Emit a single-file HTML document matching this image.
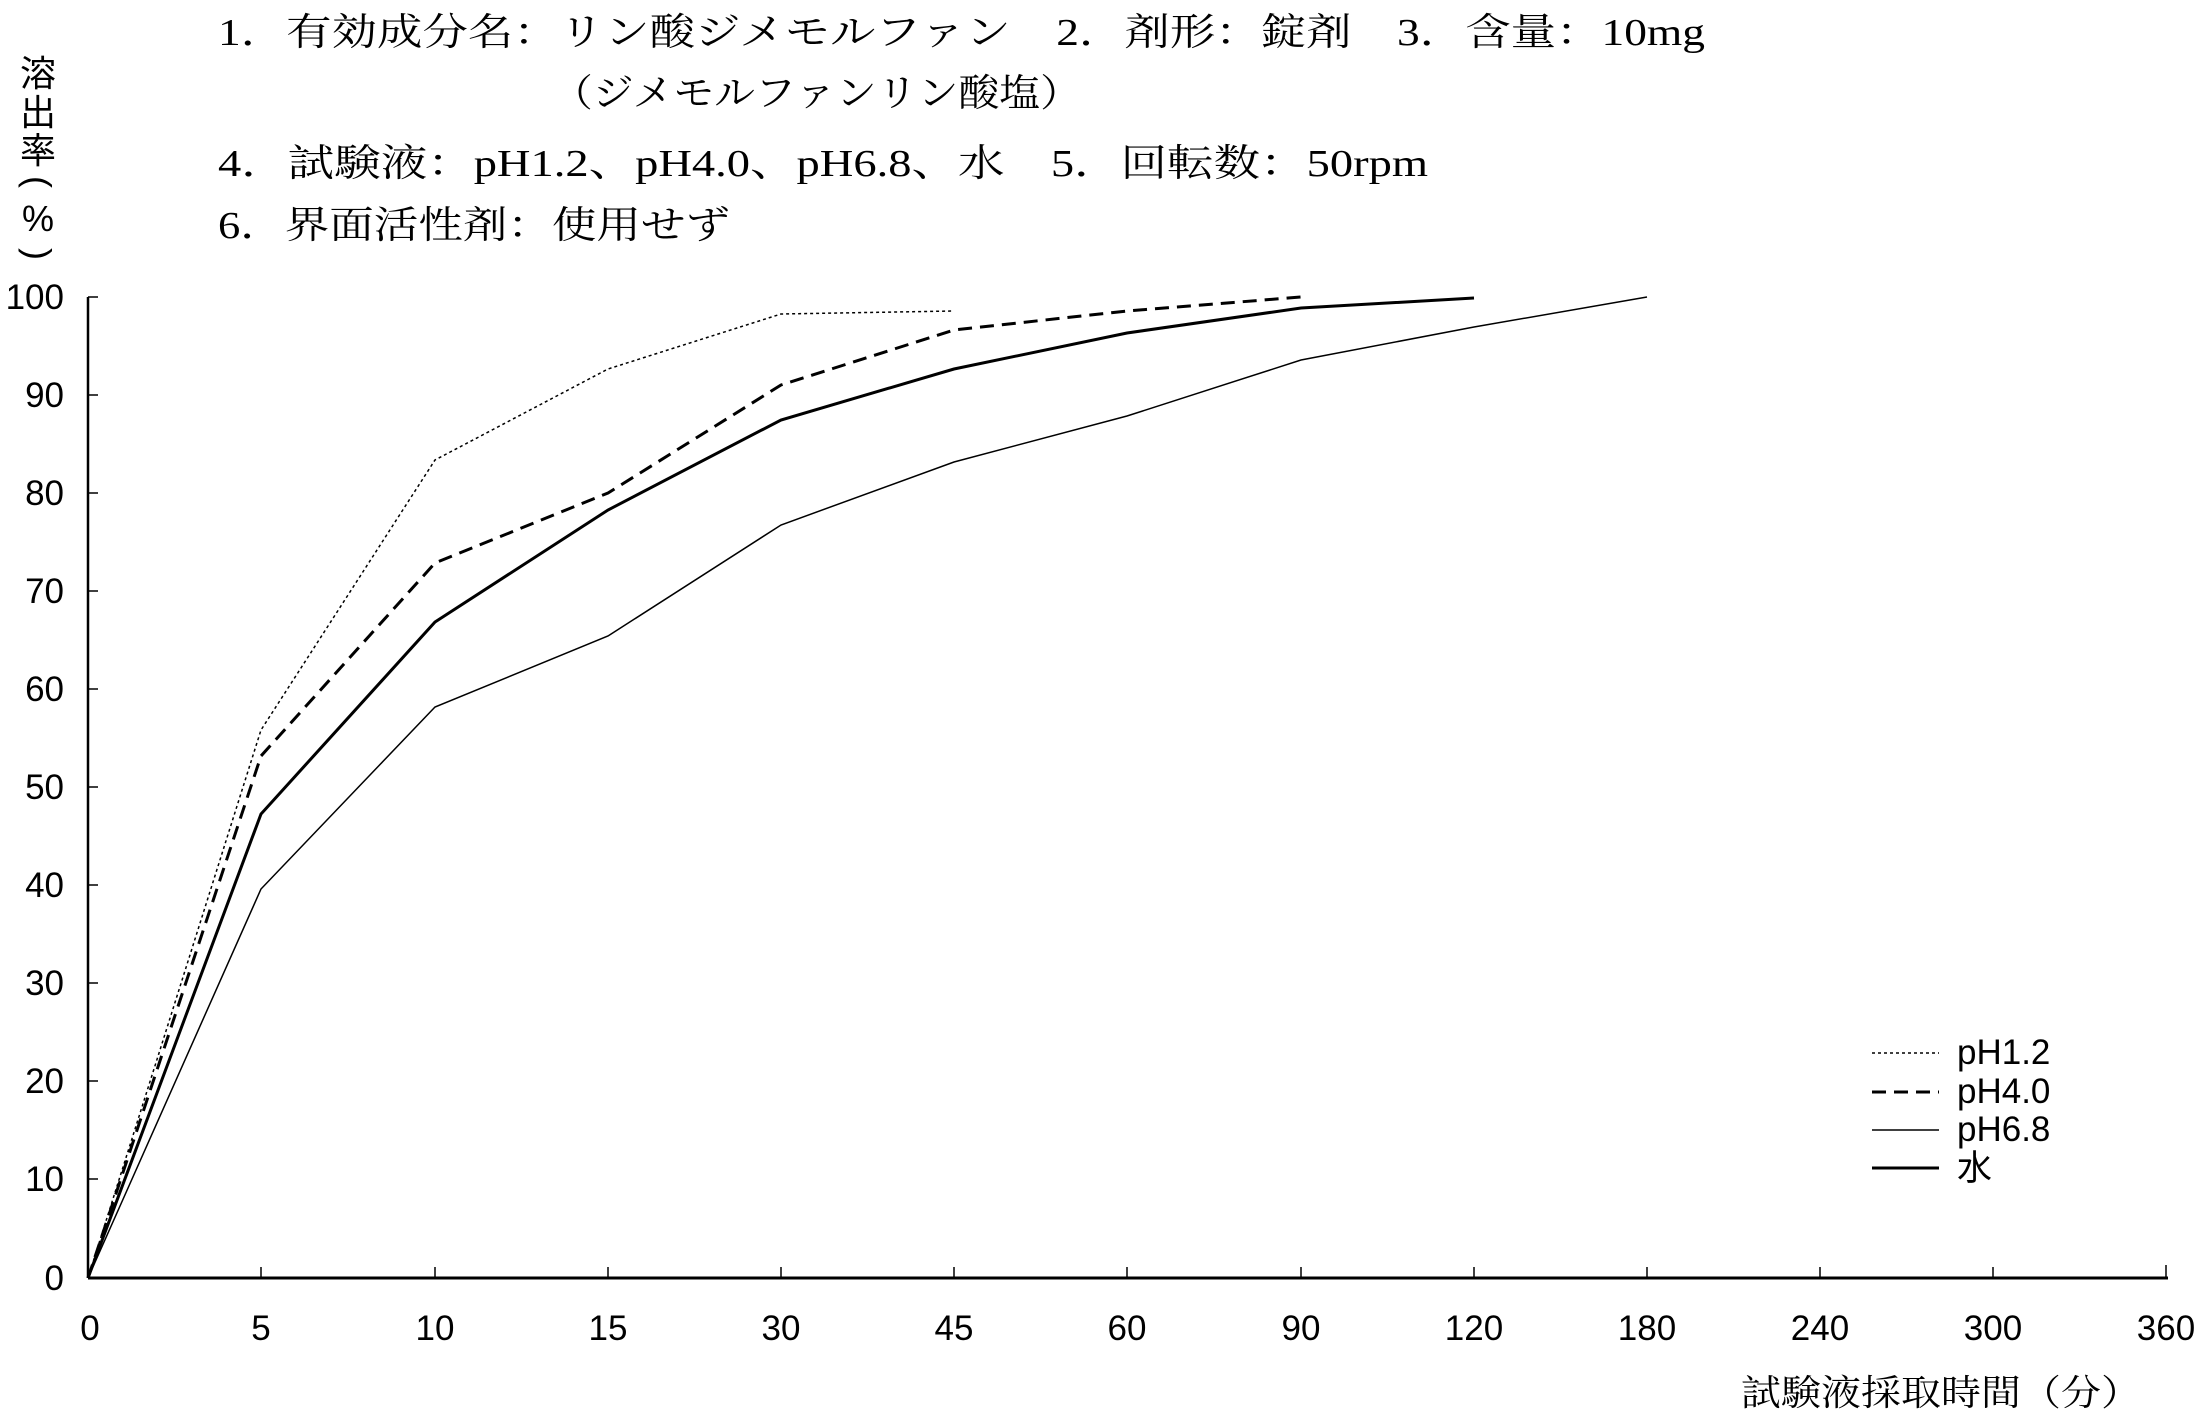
<!DOCTYPE html>
<html><head><meta charset="utf-8"><style>
html,body{margin:0;padding:0;background:#fff;}
svg{display:block;}
.t{font-family:"Liberation Serif","Noto Serif CJK SC","Noto Sans CJK JP",serif;font-size:38px;fill:#000;}
.n{font-family:"Liberation Sans","Noto Sans CJK JP",sans-serif;font-size:35px;fill:#000;}
</style></head><body>
<svg width="2201" height="1417" viewBox="0 0 2201 1417" xmlns="http://www.w3.org/2000/svg">
<text class="t" x="218" y="45" textLength="1487" lengthAdjust="spacingAndGlyphs">1．有効成分名：リン酸ジメモルファン　2．剤形：錠剤　3．含量：10mg</text>
<text class="t" x="552" y="106" textLength="529" lengthAdjust="spacingAndGlyphs">（ジメモルファンリン酸塩）</text>
<text class="t" x="218" y="176" textLength="1210" lengthAdjust="spacingAndGlyphs">4．試験液：pH1.2、pH4.0、pH6.8、水　5．回転数：50rpm</text>
<text class="t" x="218" y="238" textLength="512" lengthAdjust="spacingAndGlyphs">6．界面活性剤：使用せず</text>
<g class="n" text-anchor="middle" style="font-size:36px">
<text x="38" y="86">溶</text>
<text x="38" y="125">出</text>
<text x="38" y="163">率</text>
<text x="0" y="0" transform="translate(26,182) rotate(90)" text-anchor="middle">(</text>
<text x="38" y="231">%</text>
<text x="0" y="0" transform="translate(26,254) rotate(90)" text-anchor="middle">)</text>
</g>
<g stroke="#000" fill="none">
<line x1="88" y1="297" x2="88" y2="1278" stroke-width="2.5"/>
<line x1="88" y1="1278" x2="2168" y2="1278" stroke-width="3"/>
<g stroke-width="1.5">
<line x1="88" y1="297" x2="98" y2="297"/><line x1="88" y1="395" x2="98" y2="395"/><line x1="88" y1="493" x2="98" y2="493"/><line x1="88" y1="591" x2="98" y2="591"/><line x1="88" y1="689" x2="98" y2="689"/><line x1="88" y1="787" x2="98" y2="787"/><line x1="88" y1="885" x2="98" y2="885"/><line x1="88" y1="983" x2="98" y2="983"/><line x1="88" y1="1081" x2="98" y2="1081"/><line x1="88" y1="1179" x2="98" y2="1179"/>
<line x1="261" y1="1278" x2="261" y2="1267"/><line x1="435" y1="1278" x2="435" y2="1267"/><line x1="608" y1="1278" x2="608" y2="1267"/><line x1="781" y1="1278" x2="781" y2="1267"/><line x1="954" y1="1278" x2="954" y2="1267"/><line x1="1127" y1="1278" x2="1127" y2="1267"/><line x1="1301" y1="1278" x2="1301" y2="1267"/><line x1="1474" y1="1278" x2="1474" y2="1267"/><line x1="1647" y1="1278" x2="1647" y2="1267"/><line x1="1820" y1="1278" x2="1820" y2="1267"/><line x1="1993" y1="1278" x2="1993" y2="1267"/><line x1="2166" y1="1278" x2="2166" y2="1265"/>
</g>
<polyline stroke-width="1.5" stroke-dasharray="3,3" points="88,1278 261,730 435,460 608,369 781,314 954,311"/>
<polyline stroke-width="3" stroke-dasharray="14,8" points="88,1278 261,756 435,563 608,493 781,385 954,330 1127,311 1301,297"/>
<polyline stroke-width="1.5" points="88,1278 261,889 435,707 608,636 781,525 954,462 1127,416 1301,360 1474,327 1647,297"/>
<polyline stroke-width="3" points="88,1278 261,814 435,622 608,510 781,420 954,369 1127,333 1301,308 1474,298"/>
<line x1="1872" y1="1053" x2="1939" y2="1053" stroke-width="1.5" stroke-dasharray="3,3"/>
<line x1="1872" y1="1092" x2="1939" y2="1092" stroke-width="3" stroke-dasharray="14,8"/>
<line x1="1872" y1="1130" x2="1939" y2="1130" stroke-width="1.5"/>
<line x1="1872" y1="1168" x2="1939" y2="1168" stroke-width="3"/>
</g>
<g class="n">
<text x="1957" y="1064">pH1.2</text>
<text x="1957" y="1103">pH4.0</text>
<text x="1957" y="1141">pH6.8</text>
<text x="1957" y="1180">水</text>
</g>
<g class="n" text-anchor="end">
<text x="64" y="309">100</text><text x="64" y="407">90</text><text x="64" y="505">80</text><text x="64" y="603">70</text><text x="64" y="701">60</text><text x="64" y="799">50</text><text x="64" y="897">40</text><text x="64" y="995">30</text><text x="64" y="1093">20</text><text x="64" y="1191">10</text><text x="64" y="1290">0</text>
</g>
<g class="n" text-anchor="middle">
<text x="90" y="1340">0</text><text x="261" y="1340">5</text><text x="435" y="1340">10</text><text x="608" y="1340">15</text><text x="781" y="1340">30</text><text x="954" y="1340">45</text><text x="1127" y="1340">60</text><text x="1301" y="1340">90</text><text x="1474" y="1340">120</text><text x="1647" y="1340">180</text><text x="1820" y="1340">240</text><text x="1993" y="1340">300</text><text x="2166" y="1340">360</text>
</g>
<text class="t" x="1741" y="1405" style="font-size:36px" textLength="400" lengthAdjust="spacingAndGlyphs">試験液採取時間（分）</text>
</svg>
</body></html>
